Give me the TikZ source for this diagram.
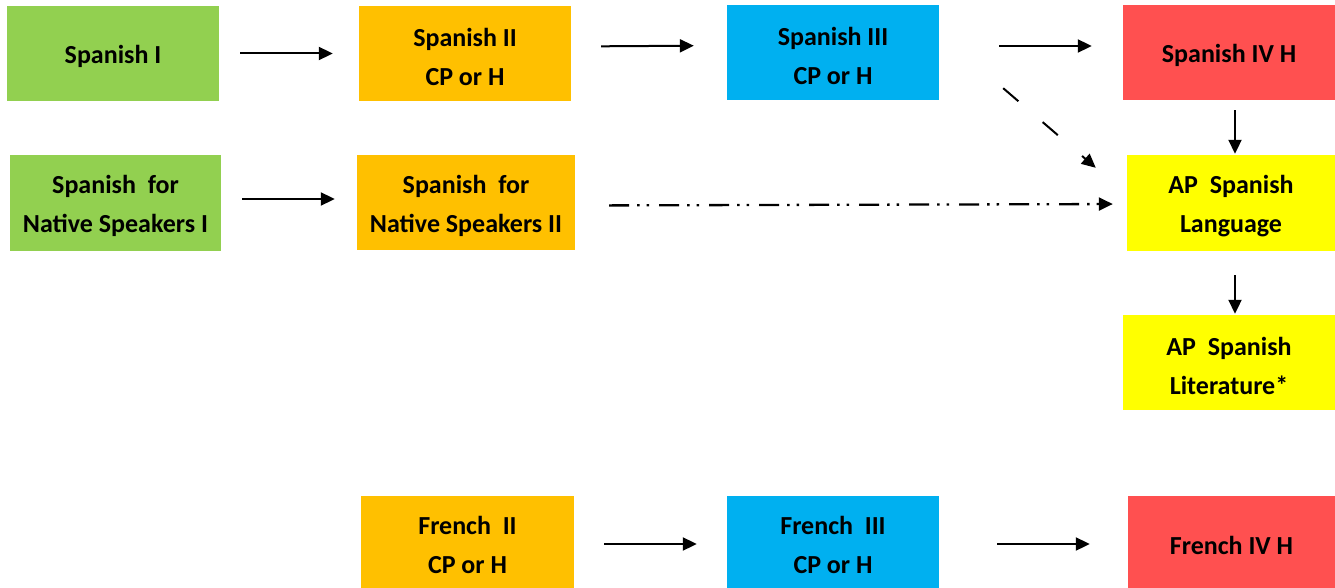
\documentclass[tikz,border=0pt]{standalone}
\usepackage{fontspec}
\usepackage{xcolor}
\usepackage{tikz}
\usetikzlibrary{arrows.meta,calc}
\newfontfamily\carlito{Carlito}
\newcommand\lift{\rule{0pt}{25pt}}

\definecolor{lvlone}{HTML}{92D050}
\definecolor{lvltwo}{HTML}{FFC000}
\definecolor{lvlthree}{HTML}{00B0F0}
\definecolor{lvlfour}{HTML}{FF5050}
\definecolor{lvlap}{HTML}{FFFF00}

\begin{document}
\begin{tikzpicture}[
  x=1pt, y=-1pt,
  course/.style={inner sep=0pt, minimum width=212pt, minimum height=95pt,
    align=center, font=\carlito\bfseries\fontsize{26}{39}\selectfont},
  arr/.style={line width=2pt, -{Triangle[length=14pt,width=13pt]}},
  diag/.style={arr, dash pattern=on 20pt off 32pt},
  dashdots/.style={arr, line width=2.3pt,
    dash pattern=on 20pt off 8pt on 2.5pt off 7pt on 2.5pt off 10pt},
]
\useasboundingbox (0,0) rectangle (1335,588);

% --- Spanish track ---
\node[course, fill=lvlone] (sp1) at (113,53.5) {\lift Spanish I};
\node[course, fill=lvltwo] (sp2) at (465,53.5) {\lift Spanish II\\CP or H};
\node[course, fill=lvlthree] (sp3) at (833,52.5) {\lift Spanish III\\CP or H};
\node[course, fill=lvlfour] (sp4) at (1229,52.5) {\lift Spanish IV H};

% --- Native speakers track ---
\node[course, fill=lvlone, minimum width=211pt, minimum height=96pt] (nsp1)
  at (115.5,203) {\lift Spanish\ \ for\\Native Speakers I};
\node[course, fill=lvltwo, minimum width=218pt] (nsp2)
  at (466,202.5) {\lift Spanish\ \ for\\Native Speakers II};

% --- AP courses ---
\node[course, fill=lvlap, minimum width=208pt, minimum height=96pt] (aplang)
  at (1231,203) {\lift AP\ \ Spanish\\Language};
\node[course, fill=lvlap] (aplit) at (1229,362.5) {\lift AP\ \ Spanish\\Literature*};

% --- French track ---
\node[course, fill=lvltwo, minimum width=213pt, minimum height=92pt] (fr2)
  at (467.5,542) {\lift French\ \ II\\CP or H};
\node[course, fill=lvlthree, minimum height=92pt] (fr3)
  at (833,542) {\lift French\ \ III\\CP or H};
\node[course, fill=lvlfour, minimum width=207pt, minimum height=92pt] (fr4)
  at (1231.5,542) {\lift French IV H};

% Arrows
\draw[arr, shorten <=21pt, shorten >=26pt] (sp1.east) -- (sp2.west);
\draw[arr, shorten <=30pt, shorten >=33pt]
  ([yshift=7pt]sp2.east) -- ([yshift=7pt]sp3.west);
\draw[arr, shorten <=60pt, shorten >=31pt]
  ([yshift=6.5pt]sp3.east) -- ([yshift=6.5pt]sp4.west);
\draw[arr, shorten <=10pt, shorten >=1pt]
  ([xshift=6pt]sp4.south) -- ([xshift=6pt]sp4.south |- aplang.north);
\draw[arr, shorten <=24pt, shorten >=1pt]
  ([xshift=4pt]aplang.south) -- ([xshift=4pt]aplang.south |- aplit.north);
\draw[arr, shorten <=21pt, shorten >=22pt]
  ([yshift=4pt]nsp1.east) -- ([yshift=4pt]nsp1.east -| nsp2.west);
\draw[dashdots, shorten <=34pt, shorten >=14pt]
  ([yshift=-3pt]nsp2.east) -- ([yshift=-1pt]aplang.west);
\draw[diag]
  ([xshift=64pt,yshift=12pt]sp3.south east) -- ([xshift=-31pt,yshift=-13pt]aplang.north west);
\draw[arr, shorten <=30pt, shorten >=30pt]
  ([yshift=-2pt]fr2.east) -- ([yshift=-2pt]fr3.west);
\draw[arr, shorten <=58pt, shorten >=38pt]
  ([yshift=-2pt]fr3.east) -- ([yshift=-2pt]fr3.east -| fr4.west);
\end{tikzpicture}
\end{document}
